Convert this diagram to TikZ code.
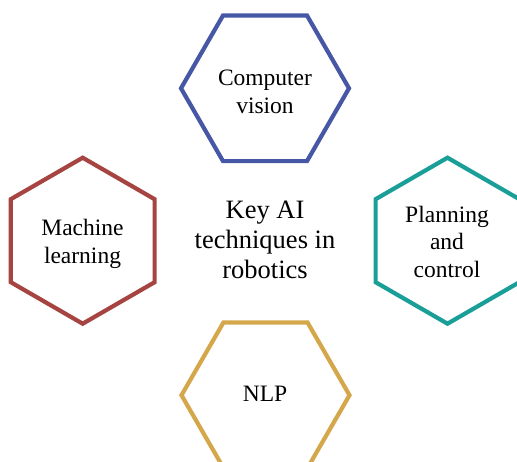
\documentclass[tikz,border=0pt]{standalone}
\usepackage{fontspec}
\setmainfont{Liberation Serif}
\definecolor{hexblue}{RGB}{70,88,165}
\definecolor{hexred}{RGB}{166,68,66}
\definecolor{hexteal}{RGB}{26,158,152}
\definecolor{hexgold}{RGB}{212,168,74}
\tikzset{
  hex/.style={line width=4.2pt, line join=miter},
  lbl/.style={align=center, inner sep=0pt, font=\fontsize{23.5}{27.5}\selectfont},
  keylbl/.style={align=center, inner sep=0pt, font=\fontsize{26.5}{30}\selectfont}
}
\begin{document}
\begin{tikzpicture}[x=1pt,y=-1pt]
\useasboundingbox (0,0) rectangle (517,461);
\clip (0,0) rectangle (517,461);
% hexagons
\draw[hex, hexblue] (349,88.3) -- (307,15.5) -- (223,15.5) -- (181,88.3) -- (223,161.1) -- (307,161.1) -- cycle;
\draw[hex, hexred] (82.7,157.7) -- (154.6,199.2) -- (154.6,282.2) -- (82.7,323.7) -- (10.8,282.2) -- (10.8,199.2) -- cycle;
\draw[hex, hexteal] (447.5,157.7) -- (519.4,199.2) -- (519.4,282.2) -- (447.5,323.7) -- (375.6,282.2) -- (375.6,199.2) -- cycle;
\draw[hex, hexgold] (349.5,395.2) -- (307.5,322.4) -- (223.5,322.4) -- (181.5,395.2) -- (223.5,468) -- (307.5,468) -- cycle;
% labels
\node[lbl] (cv) at (265,92) {Computer\\vision};
\node[lbl] (ml) at (82.5,244) {Machine\\learning};
\node[lbl] (pc) at (447,241.5) {Planning\\and\\control};
\node[lbl] (nlp) at (265,394) {NLP};
\node[keylbl] (key) at (265,240) {Key AI\\techniques in\\robotics};
\end{tikzpicture}
\end{document}
